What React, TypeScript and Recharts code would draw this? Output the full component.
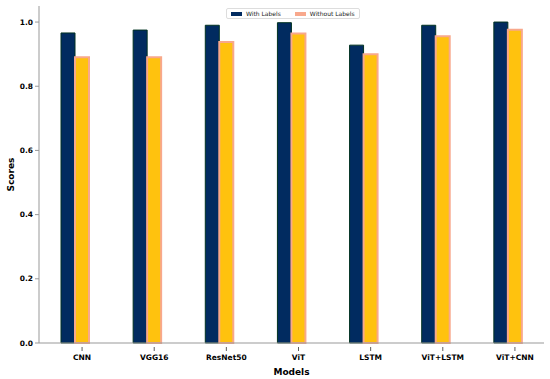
import React from 'react';
import { BarChart, Bar, XAxis, YAxis } from 'recharts';

const models = ['CNN', 'VGG16', 'ResNet50', 'ViT', 'LSTM', 'ViT+LSTM', 'ViT+CNN'];
const withLabels = [0.966, 0.975, 0.99, 0.998, 0.928, 0.99, 1.0];
const withoutLabels = [0.89, 0.89, 0.938, 0.964, 0.9, 0.956, 0.976];
const yTicks = [0, 0.2, 0.4, 0.6, 0.8, 1.0];

const data = models.map((m, i) => ({ model: m, with: withLabels[i], without: withoutLabels[i] }));

const NAVY = '#012b60';
const GOLD = '#ffc20e';
const SALMON = '#f8a88c';
const FONT = 'DejaVu Sans, sans-serif';

const ModelTick = (props: any) => {
  const { x, y, payload } = props;
  return (
    <g>
      <line x1={x + 7} x2={x + 7} y1={y - 4} y2={y} stroke="#333" strokeWidth={0.8} />
      <text x={x + 7} y={y + 9} textAnchor="middle" fontSize={7.5} fontWeight="bold" fontFamily={FONT} fill="#000">
        {payload.value}
      </text>
    </g>
  );
};

const LegendBox = () => (
  <div
    style={{
      position: 'absolute',
      left: 226,
      top: 8,
      display: 'flex',
      alignItems: 'center',
      background: 'rgba(255,255,255,0.85)',
      border: '1px solid #ddd',
      borderRadius: 2,
      padding: '1px 4px',
      fontFamily: FONT,
      fontSize: 6,
      color: '#222',
      gap: 4,
    }}
  >
    <span style={{ width: 11, height: 4, background: NAVY, display: 'inline-block' }} />
    <span style={{ marginRight: 10 }}>With Labels</span>
    <span style={{ width: 11, height: 4, background: SALMON, display: 'inline-block' }} />
    <span>Without Labels</span>
  </div>
);

export default function App() {
  return (
    <div style={{ position: 'absolute', left: 0, top: 0, width: 550, height: 379, background: '#fff' }}>
      <BarChart
        width={550}
        height={379}
        data={data}
        margin={{ top: 6, right: 6, bottom: 0, left: 0 }}
        barGap={0}
        barSize={14}
      >
        <XAxis
          dataKey="model"
          height={36}
          stroke="#999"
          tickLine={false}
          tick={<ModelTick />}
          interval={0}
          label={{ value: 'Models', position: 'insideBottom', offset: 4, fontSize: 9, fontWeight: 'bold', fill: '#000', fontFamily: FONT }}
        />
        <XAxis xAxisId="top" orientation="top" height={0} tick={false} tickLine={false} stroke="#999" dataKey="model" />
        <YAxis
          width={39}
          domain={[0, 1.05]}
          ticks={yTicks}
          tickFormatter={(v: number) => v.toFixed(1)}
          stroke="#999"
          tickSize={4}
          tick={{ fontSize: 7.5, fontWeight: 'bold', fill: '#000', fontFamily: FONT }}
          label={{ value: 'Scores', angle: -90, position: 'insideLeft', offset: 11, fontSize: 9, fontWeight: 'bold', fill: '#000', fontFamily: FONT, style: { textAnchor: 'middle' } }}
        />
        <YAxis yAxisId="right" orientation="right" width={0} tick={false} tickLine={false} stroke="#999" domain={[0, 1.05]} />
        <Bar dataKey="with" name="With Labels" fill={NAVY} stroke="#023322" strokeWidth={1} isAnimationActive={false} />
        <Bar dataKey="without" name="Without Labels" fill={GOLD} stroke={SALMON} strokeWidth={2} isAnimationActive={false} />
      </BarChart>
      <LegendBox />
    </div>
  );
}
